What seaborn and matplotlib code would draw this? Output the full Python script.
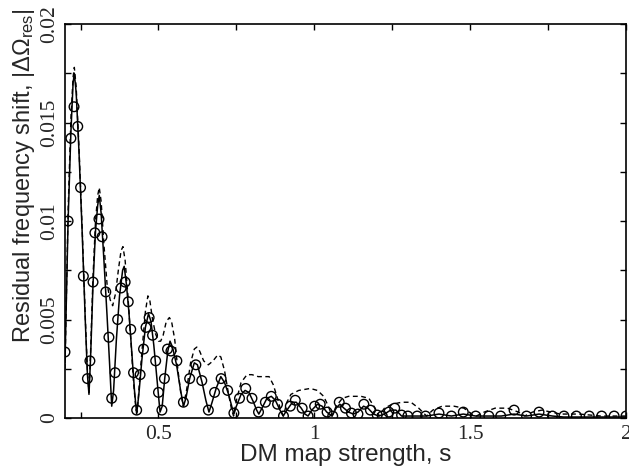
import numpy as np
import pandas as pd
import matplotlib
matplotlib.use("Agg")
import matplotlib.pyplot as plt
from matplotlib.ticker import FixedLocator, FuncFormatter
import seaborn as sns

# solid curve
solid_s = [0.200, 0.210, 0.219, 0.226, 0.230, 0.236, 0.245, 0.255, 0.265, 0.272,
           0.277, 0.282, 0.290, 0.298, 0.305, 0.310, 0.316, 0.325, 0.335, 0.343,
           0.350, 0.356, 0.365, 0.375, 0.385, 0.390, 0.397, 0.405, 0.415, 0.423,
           0.430, 0.437, 0.447, 0.458, 0.468, 0.476, 0.485, 0.495, 0.505, 0.512,
           0.520, 0.530, 0.537, 0.545, 0.558, 0.570, 0.580, 0.588, 0.600, 0.615,
           0.625, 0.640, 0.652, 0.662, 0.672, 0.685, 0.700, 0.712, 0.725, 0.735,
           0.742, 0.750, 0.765, 0.778, 0.790, 0.805, 0.815, 0.822, 0.832, 0.848,
           0.862, 0.875, 0.890, 0.900, 0.912, 0.930, 0.942, 0.958, 0.970, 0.980,
           0.992, 1.010, 1.025, 1.040, 1.057, 1.070, 1.082, 1.095, 1.110, 1.125,
           1.140, 1.158, 1.172, 1.190, 1.207, 1.225, 1.245, 1.262, 1.280, 1.300,
           1.330, 1.360, 1.400, 1.440, 1.478, 1.518, 1.560, 1.600, 1.641, 1.681,
           1.721, 1.764, 1.800, 1.900, 2.000]
solid_w = [0.0028, 0.0100, 0.0145, 0.0170, 0.0175, 0.0165, 0.0135, 0.0095, 0.0050, 0.0022,
           0.0012, 0.0030, 0.0068, 0.0095, 0.0108, 0.0113, 0.0104, 0.0080, 0.0052, 0.0028,
           0.0006, 0.0014, 0.0040, 0.0062, 0.0075, 0.0077, 0.0068, 0.0054, 0.0032, 0.0014,
           0.0002, 0.0012, 0.0030, 0.0046, 0.0053, 0.0049, 0.0037, 0.0020, 0.0003, 0.0006,
           0.0020, 0.0034, 0.0039, 0.0036, 0.0027, 0.0015, 0.0006, 0.0010, 0.0020, 0.0028,
           0.0027, 0.0018, 0.0009, 0.0003, 0.0008, 0.0015, 0.0021, 0.0018, 0.0012, 0.0006,
           0.0002, 0.0006, 0.0012, 0.0014, 0.0013, 0.0008, 0.0004, 0.0002, 0.0005, 0.0010,
           0.0011, 0.0009, 0.0004, 0.0001, 0.0004, 0.0008, 0.0008, 0.0005, 0.0002, 0.0001,
           0.0004, 0.0007, 0.0006, 0.0003, 0.0001, 0.0005, 0.0007, 0.0005, 0.0003, 0.0002,
           0.0003, 0.0006, 0.0005, 0.0002, 0.0001, 0.0002, 0.0004, 0.0004, 0.0001, 0.0001,
           0.0001, 0.0001, 0.0002, 0.0001, 0.0002, 0.0001, 0.0001, 0.0001, 0.0002, 0.0001,
           0.0002, 0.0001, 0.00005, 0.00005, 0.00005]

# dashed curve
dashed_s = [0.200, 0.210, 0.219, 0.226, 0.230, 0.236, 0.245, 0.255, 0.265, 0.272,
            0.277, 0.282, 0.290, 0.298, 0.305, 0.310, 0.316, 0.325, 0.335, 0.345,
            0.353, 0.362, 0.372, 0.380, 0.386, 0.393, 0.402, 0.412, 0.420, 0.428,
            0.432, 0.437, 0.447, 0.458, 0.466, 0.472, 0.480, 0.490, 0.500, 0.507,
            0.515, 0.525, 0.535, 0.542, 0.552, 0.562, 0.572, 0.580, 0.590, 0.603,
            0.615, 0.623, 0.632, 0.645, 0.660, 0.675, 0.690, 0.700, 0.712, 0.725,
            0.735, 0.741, 0.750, 0.765, 0.784, 0.800, 0.820, 0.840, 0.855, 0.868,
            0.880, 0.892, 0.901, 0.912, 0.925, 0.950, 0.987, 1.010, 1.030, 1.045,
            1.057, 1.070, 1.090, 1.110, 1.150, 1.175, 1.195, 1.207, 1.225, 1.250,
            1.280, 1.310, 1.335, 1.360, 1.380, 1.410, 1.448, 1.480, 1.505, 1.520,
            1.545, 1.580, 1.620, 1.655, 1.675, 1.700, 1.730, 1.760, 1.790, 1.850,
            1.920, 2.000]
dashed_w = [0.0025, 0.0105, 0.0152, 0.0173, 0.0178, 0.0168, 0.0137, 0.0097, 0.0052, 0.0024,
            0.0013, 0.0033, 0.0072, 0.0100, 0.0113, 0.0117, 0.0110, 0.0088, 0.0068, 0.0060,
            0.0057, 0.0063, 0.0076, 0.0085, 0.0087, 0.0080, 0.0062, 0.0038, 0.0018, 0.0004,
            0.0003, 0.0014, 0.0034, 0.0054, 0.0062, 0.0060, 0.0051, 0.0043, 0.0039, 0.0039,
            0.0042, 0.0049, 0.0051, 0.0049, 0.0040, 0.0025, 0.0012, 0.0006, 0.0014, 0.0028,
            0.0035, 0.0036, 0.0034, 0.0029, 0.0027, 0.0029, 0.0032, 0.0031, 0.0024, 0.0012,
            0.0004, 0.0001, 0.0009, 0.0018, 0.0022, 0.0022, 0.0021, 0.0021, 0.0021, 0.0017,
            0.0011, 0.0004, 0.0001, 0.0008, 0.0012, 0.0014, 0.0015, 0.0014, 0.0011, 0.0006,
            0.0001, 0.0006, 0.0010, 0.0011, 0.0011, 0.0010, 0.0005, 0.0001, 0.0005, 0.0007,
            0.0008, 0.0008, 0.0005, 0.0001, 0.0004, 0.0006, 0.0006, 0.0005, 0.0002, 0.0001,
            0.0003, 0.0005, 0.0005, 0.0003, 0.0001, 0.0003, 0.0004, 0.0003, 0.0002, 0.0002,
            0.0001, 0.0001]

# open circles
circ_s = [0.200, 0.210, 0.219, 0.229, 0.241, 0.250, 0.259, 0.272, 0.280, 0.290,
          0.296, 0.309, 0.319, 0.331, 0.341, 0.350, 0.361, 0.369, 0.380, 0.393,
          0.403, 0.411, 0.420, 0.430, 0.441, 0.452, 0.460, 0.470, 0.481, 0.491,
          0.500, 0.511, 0.519, 0.529, 0.540, 0.559, 0.580, 0.600, 0.620, 0.639,
          0.660, 0.680, 0.701, 0.722, 0.742, 0.760, 0.780, 0.800, 0.821, 0.843,
          0.862, 0.882, 0.901, 0.923, 0.939, 0.961, 0.980, 1.001, 1.019, 1.041,
          1.059, 1.080, 1.100, 1.119, 1.140, 1.159, 1.180, 1.202, 1.218, 1.239,
          1.258, 1.280, 1.300, 1.330, 1.357, 1.400, 1.440, 1.478, 1.518, 1.560,
          1.598, 1.641, 1.681, 1.721, 1.764, 1.801, 1.841, 1.882, 1.922, 1.962,
          2.000]
circ_w = [0.00335, 0.0100, 0.0142, 0.0158, 0.0148, 0.0117, 0.0072, 0.0020, 0.0029, 0.0069,
          0.0094, 0.0101, 0.0092, 0.0064, 0.0041, 0.0010, 0.0023, 0.0050, 0.0066, 0.0069,
          0.0059, 0.0045, 0.0023, 0.0004, 0.0022, 0.0035, 0.0046, 0.0051, 0.0042, 0.0029,
          0.0013, 0.0004, 0.0020, 0.0035, 0.0034, 0.0029, 0.0008, 0.0020, 0.0027, 0.0019,
          0.0004, 0.0013, 0.0020, 0.0014, 0.00025, 0.0010, 0.0015, 0.0010, 0.0003, 0.0008,
          0.0011, 0.0007, 0.0001, 0.0006, 0.0009, 0.0005, 0.0001, 0.0006, 0.0007, 0.0003,
          0.0001, 0.0008, 0.0005, 0.00025, 0.0002, 0.0007, 0.0004, 0.00015, 0.0001, 0.0003,
          0.0005, 0.00015, 0.0001, 0.0001, 0.0001, 0.00025, 0.0001, 0.0003, 0.0001, 0.0001,
          0.0001, 0.0004, 0.0001, 0.0003, 0.0001, 0.0001, 0.0001, 0.0001, 0.0001, 0.0001,
          0.0001]

x_ticks = [0.25, 0.5, 0.75, 1.0, 1.25, 1.5, 1.75, 2.0]
y_ticks = [0, 0.0025, 0.005, 0.0075, 0.01, 0.0125, 0.015, 0.0175, 0.02]

sns.set_theme(style="ticks")
plt.rcParams['font.family'] = ['Liberation Sans', 'DejaVu Sans']
plt.rcParams['mathtext.default'] = 'regular'

fig = plt.figure(figsize=(6.29, 4.72), dpi=100)
ax = fig.add_axes([0.1033, 0.1144, 0.8919, 0.8347])

sns.lineplot(x=dashed_s, y=dashed_w, ax=ax, color='black', lw=1.0,
             linestyle=(0, (3.5, 2.5)), sort=False, estimator=None)
sns.lineplot(x=solid_s, y=solid_w, ax=ax, color='black', lw=1.1,
             sort=False, estimator=None)
sns.scatterplot(x=circ_s, y=circ_w, ax=ax, marker='o', s=48,
                facecolor='none', edgecolor='black', linewidth=1.0, zorder=3)

ax.set_xlim(0.2, 2.0)
ax.set_ylim(0, 0.02)
ax.xaxis.set_major_locator(FixedLocator(x_ticks))
ax.yaxis.set_major_locator(FixedLocator(y_ticks))
ax.xaxis.set_major_formatter(FuncFormatter(
    lambda v, p: ('%g' % v) if abs(v * 2 - round(v * 2)) < 1e-9 else ''))
ax.yaxis.set_major_formatter(FuncFormatter(
    lambda v, p: ('%g' % v) if abs(v / 0.005 - round(v / 0.005)) < 1e-9 else ''))

ax.tick_params(direction='in', length=4, width=1, color='black',
               top=True, right=True, labelsize=15.5, pad=5)
ax.tick_params(axis='y', labelrotation=90, pad=4)
for lab in ax.get_xticklabels() + ax.get_yticklabels():
    lab.set_fontfamily('Liberation Serif')
for lab in ax.get_yticklabels():
    lab.set_va('center')

for sp in ax.spines.values():
    sp.set_color('black')
    sp.set_linewidth(1.2)

ax.set_xlabel('DM map strength, s', fontsize=17.5, labelpad=0)
ax.set_ylabel(r'Residual frequency shift, |ΔΩ$_{res}$|', fontsize=17)
ax.yaxis.set_label_coords(-0.05, 0.614)

fig.savefig('out.png', dpi=100)
